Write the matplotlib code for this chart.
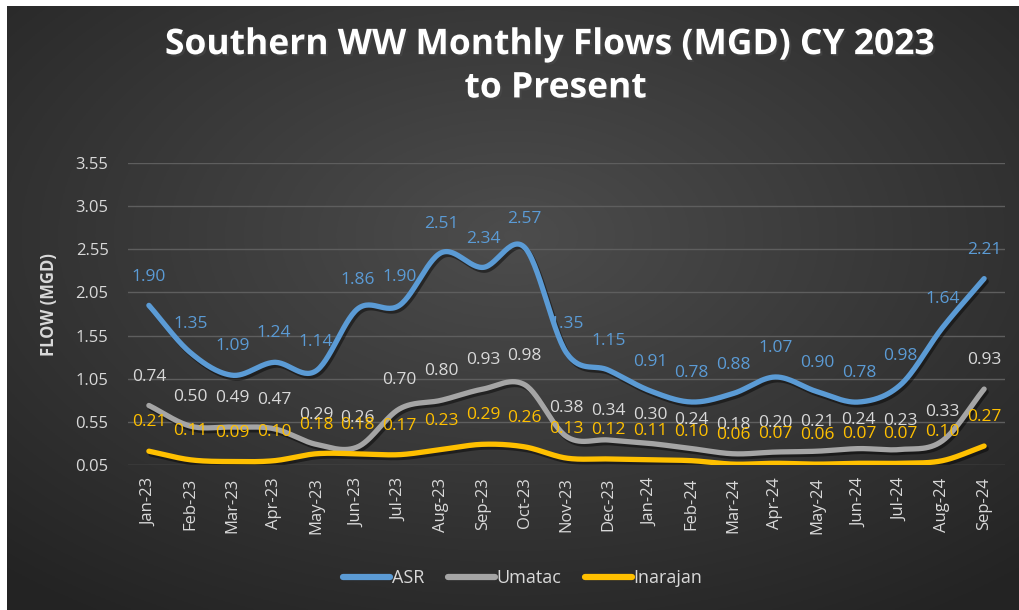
import numpy as np
import matplotlib
matplotlib.use('Agg')
import matplotlib.pyplot as plt
import matplotlib.patheffects as pe
from matplotlib.lines import Line2D

#%% data

months = ['Jan-23', 'Feb-23', 'Mar-23', 'Apr-23', 'May-23', 'Jun-23', 'Jul-23',
          'Aug-23', 'Sep-23', 'Oct-23', 'Nov-23', 'Dec-23', 'Jan-24', 'Feb-24',
          'Mar-24', 'Apr-24', 'May-24', 'Jun-24', 'Jul-24', 'Aug-24', 'Sep-24']
asr = [1.90, 1.35, 1.09, 1.24, 1.14, 1.86, 1.90, 2.51, 2.34, 2.57, 1.35,
       1.15, 0.91, 0.78, 0.88, 1.07, 0.90, 0.78, 0.98, 1.64, 2.21]
umatac = [0.74, 0.50, 0.49, 0.47, 0.29, 0.26, 0.70, 0.80, 0.93, 0.98, 0.38,
          0.34, 0.30, 0.24, 0.18, 0.20, 0.21, 0.24, 0.23, 0.33, 0.93]
inarajan = [0.21, 0.11, 0.09, 0.10, 0.18, 0.18, 0.17, 0.23, 0.29, 0.26, 0.13,
            0.12, 0.11, 0.10, 0.06, 0.07, 0.06, 0.07, 0.07, 0.10, 0.27]
yticks = [0.05, 0.55, 1.05, 1.55, 2.05, 2.55, 3.05, 3.55]

FONT = 'Open Sans'
plt.rcParams['font.family'] = [FONT, 'DejaVu Sans']


def smooth(x, y, n=30):
    # catmull-rom style curve like excel's smoothed line
    x = np.asarray(x, float)
    y = np.asarray(y, float)
    px = np.concatenate([[2*x[0]-x[1]], x, [2*x[-1]-x[-2]]])
    py = np.concatenate([[2*y[0]-y[1]], y, [2*y[-1]-y[-2]]])
    xs, ys = [], []
    t = np.linspace(0, 1, n, endpoint=False)
    for i in range(1, len(px)-2):
        for P, out in ((px, xs), (py, ys)):
            p0, p1, p2, p3 = P[i-1], P[i], P[i+1], P[i+2]
            out.extend(0.5*((2*p1) + (-p0+p2)*t + (2*p0-5*p1+4*p2-p3)*t**2
                            + (-p0+3*p1-3*p2+p3)*t**3))
    xs.append(x[-1])
    ys.append(y[-1])
    return np.array(xs), np.array(ys)


#%% figure + gradient background

fig = plt.figure(figsize=(10.19, 6.10), dpi=100)
fig.patch.set_facecolor('white')

bg = fig.add_axes([7/1019, 0, 1-7/1019, 1-6/610], zorder=0)
gx, gy = np.meshgrid(np.linspace(0, 1, 400), np.linspace(0, 1, 300))
r = np.sqrt(((gx-0.5)/0.75)**2 + ((gy-0.62)/0.75)**2)
r = np.clip(r, 0, 1)
c0, c1 = 0.30, 0.14
img = c0 + (c1-c0)*r
bg.imshow(np.dstack([img, img, img]), aspect='auto', extent=[0, 1, 0, 1],
          origin='lower')
bg.axis('off')

ax = fig.add_axes([128/1019, 1-465/610, (1005-128)/1019, (465-163)/610], zorder=1)
ax.patch.set_alpha(0)

x = np.arange(len(months))
series = [('ASR', asr, '#5b9bd5', '#5b9bd5'),
          ('Umatac', umatac, '#a5a5a5', '#d9d9d9'),
          ('Inarajan', inarajan, '#ffc000', '#ffc000')]

shadow = [pe.SimpleLineShadow(offset=(1.5, -2), shadow_color='black', alpha=0.45),
          pe.Normal()]

for name, vals, col, lcol in series:
    sx, sy = smooth(x, vals)
    ax.plot(sx, sy, color=col, lw=3.8, solid_capstyle='round', zorder=3,
            path_effects=shadow)
    for xi, v in zip(x, vals):
        ax.annotate('%.2f' % v, (xi, v), xytext=(0, 15), textcoords='offset points',
                    ha='center', va='bottom', color=lcol, fontsize=12.5, zorder=5)

ax.set_xlim(-0.5, len(months)-0.5)
ax.set_ylim(0.05, 3.55)
ax.set_yticks(yticks)
ax.set_yticklabels(['%.2f' % v for v in yticks])
ax.set_xticks(x)
ax.set_xticklabels(months, rotation=90)
ax.tick_params(axis='both', colors='#d9d9d9', labelsize=12, length=0)
ax.tick_params(axis='y', pad=14)
ax.tick_params(axis='x', pad=9)
ax.grid(axis='y', color='#5e5e5e', lw=1)
ax.set_axisbelow(True)
for s in ax.spines.values():
    s.set_visible(False)

ax.set_ylabel('FLOW (MGD)', color='#d9d9d9', fontsize=12, fontweight='bold')
ax.yaxis.set_label_coords(-0.08, 0.53)

title_fx = [pe.withSimplePatchShadow(offset=(1.5, -1.5), alpha=0.5)]
fig.text(0.539, 0.926, 'Southern WW Monthly Flows (MGD) CY 2023', ha='center',
         va='center', color='white', fontsize=25.5, fontweight='bold',
         path_effects=title_fx)
fig.text(0.545, 0.855, 'to Present', ha='center', va='center', color='white',
         fontsize=25.5, fontweight='bold', path_effects=title_fx)

handles = [Line2D([], [], color=c, lw=4.5, solid_capstyle='round') for _, _, c, _ in series]
leg = fig.legend(handles, [s[0] for s in series], loc='center',
                 bbox_to_anchor=(0.513, 0.052), ncol=3, frameon=False,
                 fontsize=13, handlelength=2.6, handletextpad=0.1,
                 columnspacing=1.3)
for t in leg.get_texts():
    t.set_color('#d9d9d9')

plt.savefig('out.png', dpi=100, facecolor=fig.get_facecolor())
